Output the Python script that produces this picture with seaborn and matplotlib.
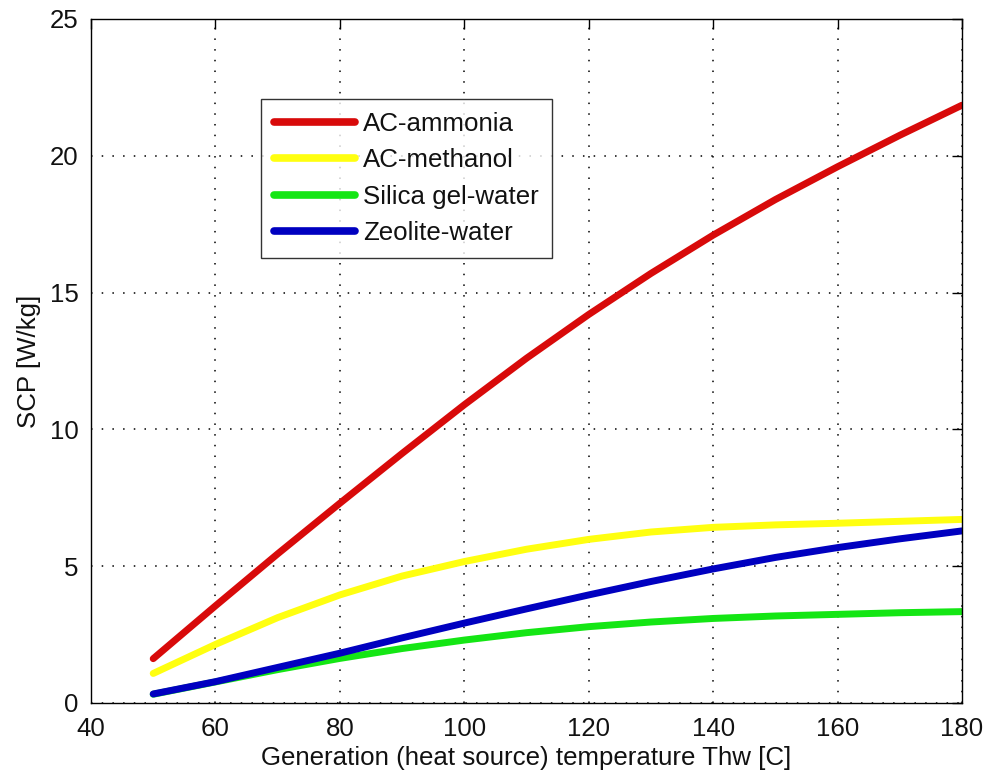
import matplotlib
matplotlib.use("Agg")
import matplotlib.pyplot as plt
import seaborn as sns
import pandas as pd

temps = [50, 60, 70, 80, 90, 100, 110, 120, 130, 140, 150, 160, 170, 180]
ac_ammonia = [1.62, 3.55, 5.45, 7.30, 9.12, 10.90, 12.60, 14.20, 15.70, 17.10, 18.40, 19.60, 20.75, 21.85]
ac_methanol = [1.08, 2.14, 3.12, 3.95, 4.64, 5.17, 5.62, 5.98, 6.25, 6.42, 6.51, 6.57, 6.64, 6.71]
silica_gel = [0.32, 0.77, 1.22, 1.63, 1.99, 2.30, 2.57, 2.79, 2.96, 3.09, 3.18, 3.24, 3.30, 3.34]
zeolite = [0.33, 0.78, 1.30, 1.82, 2.38, 2.92, 3.44, 3.95, 4.44, 4.90, 5.32, 5.68, 6.00, 6.29]

series_names = ["AC-ammonia", "AC-methanol", "Silica gel-water", "Zeolite-water"]
series_values = [ac_ammonia, ac_methanol, silica_gel, zeolite]
colors = ["#d80a0a", "#ffff10", "#14e614", "#0000c0"]

x_ticks = [40, 60, 80, 100, 120, 140, 160, 180]
y_ticks = [0, 5, 10, 15, 20, 25]

rows = []
for name, vals in zip(series_names, series_values):
    for t, v in zip(temps, vals):
        rows.append({"T": t, "SCP": v, "series": name})
df = pd.DataFrame(rows)

sns.set_style("white")
plt.rcParams["font.family"] = ["Liberation Sans", "DejaVu Sans"]
plt.rcParams["text.color"] = "#111111"
plt.rcParams["axes.labelcolor"] = "#111111"
FS = 18.6

fig = plt.figure(figsize=(9.85, 7.76), dpi=100)
ax = fig.add_axes([91/985, 1-703/776, (962-91)/985, (703-19)/776])

sns.lineplot(data=df, x="T", y="SCP", hue="series", hue_order=series_names,
             palette=dict(zip(series_names, colors)), linewidth=5.0, ax=ax,
             sort=True, estimator=None)

ax.set_xlim(40, 180)
ax.set_ylim(0, 25)
ax.set_xticks(x_ticks)
ax.set_yticks(y_ticks)
ax.grid(True, color="black", linestyle=(0, (1, 6)), linewidth=1.1)
ax.tick_params(direction="in", length=7, width=1, top=True, right=True,
               labelsize=FS, pad=9, colors="black", labelcolor="#111111")
ax.tick_params(axis="x", pad=10)
for s in ax.spines.values():
    s.set_visible(True)
    s.set_color("black")
    s.set_linewidth(1.0)

ax.set_xlabel("Generation (heat source) temperature Thw [C]", fontsize=FS, labelpad=4)
ax.set_ylabel("SCP [W/kg]", fontsize=FS, labelpad=6)

leg = ax.legend(loc="upper left", bbox_to_anchor=((261-91)/871, (703-99)/684),
                borderaxespad=0, fontsize=FS, frameon=True, fancybox=False,
                handlelength=3.15, handletextpad=0.3, labelspacing=0.48,
                borderpad=0.5, title=None)
leg.get_frame().set_edgecolor("black")
leg.get_frame().set_linewidth(1.0)
for line in leg.get_lines():
    line.set_linewidth(5.5)

fig.savefig("out.png", dpi=100, facecolor="white")
